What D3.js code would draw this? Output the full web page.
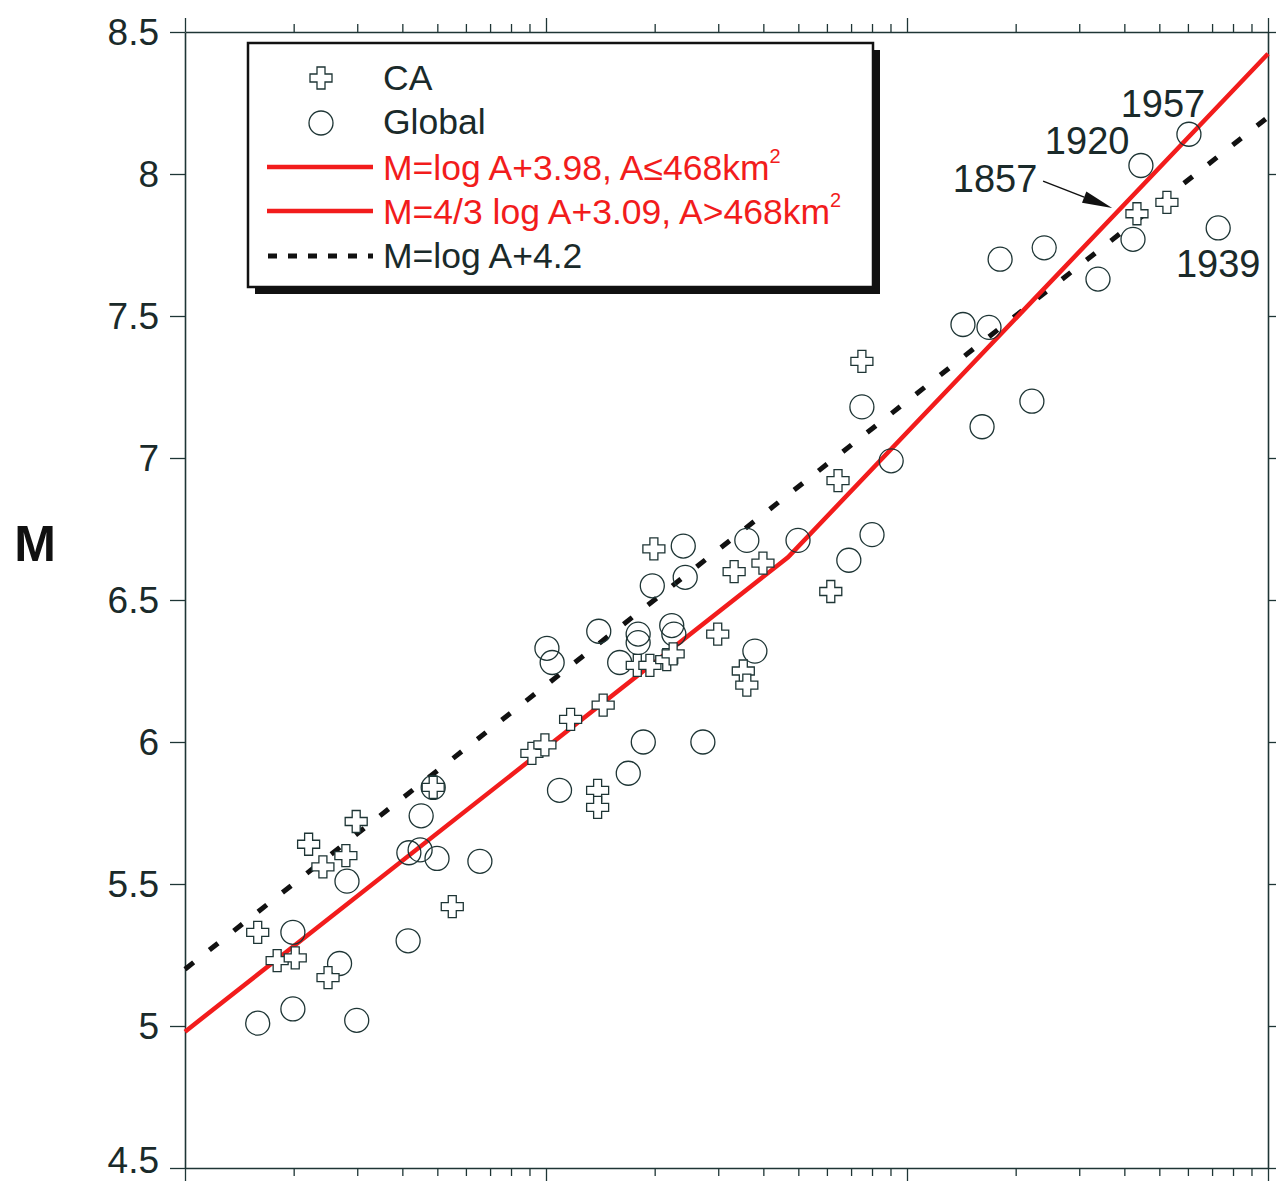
<!DOCTYPE html>
<html>
<head>
<meta charset="utf-8">
<script src="https://cdn.jsdelivr.net/npm/d3@7"></script>
<style>
  body { margin: 0; background: #fff; }
  svg { display: block; font-family: "Liberation Sans", Arial, sans-serif; }
</style>
</head>
<body>
<svg id="chart" width="1277" height="1181"></svg>
<script>
// rupture area A (km^2) and magnitude M
var caArea = [48.7, 29.8, 22.0, 27.9, 24.1, 55.0, 15.9, 18.0, 20.2, 24.9,
              91.4, 99.3, 117, 144, 139, 139, 179, 194, 216, 225,
              199, 299, 332, 399, 352, 360, 615, 644, 750, 4335, 5248];
var caMag  = [5.84, 5.72, 5.64, 5.60, 5.56, 5.42, 5.33, 5.23, 5.24, 5.17,
              5.96, 5.99, 6.08, 6.13, 5.83, 5.77, 6.27, 6.27, 6.29, 6.31,
              6.68, 6.38, 6.60, 6.63, 6.25, 6.20, 6.53, 6.92, 7.34, 7.86, 7.90];

var globalArea = [48.7, 45.1, 41.7, 44.8, 49.9, 65.6, 28.1, 41.5, 19.9, 26.8,
                  19.9, 15.9, 29.9, 100.6, 104, 140, 180, 180, 223, 226,
                  160, 197, 243, 240, 360, 499, 379, 186, 272, 169,
                  109, 750, 904, 800, 690, 1429, 1687, 1614, 2218, 1811,
                  2399, 3381, 4227, 4446, 6039, 7278];
var globalMag  = [5.84, 5.74, 5.61, 5.62, 5.59, 5.58, 5.51, 5.30, 5.33, 5.22,
                  5.06, 5.01, 5.02, 6.33, 6.28, 6.39, 6.38, 6.35, 6.41, 6.38,
                  6.28, 6.55, 6.58, 6.69, 6.71, 6.71, 6.32, 6.00, 6.00, 5.89,
                  5.83, 7.18, 6.99, 6.73, 6.64, 7.47, 7.46, 7.11, 7.20, 7.70,
                  7.74, 7.63, 7.77, 8.03, 8.14, 7.81];

// fitted relations shown in the legend
var fitBreak = 468;                 // km^2
var fitSmall = {slope: 1, c: 3.98};
var fitLarge = {slope: 4 / 3, c: 3.09};
var fitWG = {slope: 1, c: 4.2};

var yTicks = [4.5, 5, 5.5, 6, 6.5, 7, 7.5, 8, 8.5];

var notes = [
  {label: "1957", a: 5117, m: 8.25},
  {label: "1920", a: 3155, m: 8.12},
  {label: "1857", a: 1754, m: 7.985},
  {label: "1939", a: 7278, m: 7.687}
];
var arrow1857 = {from: [2382, 7.975], to: [3700, 7.88]};

var svg = d3.select("#chart");
var ink = "#1e3535";

var x = d3.scaleLog().domain([10, 10000]).range([185, 1268]);
var y = d3.scaleLinear().domain([4.5, 8.5]).range([1168, 32]);

// axes
var logTicks = x.ticks();
var isMajor = function(v) { return Math.abs(Math.log10(v) - Math.round(Math.log10(v))) < 1e-9; };

function frame(gSel) {
  gSel.select(".domain").attr("stroke", ink).attr("stroke-width", 1.6);
  gSel.selectAll(".tick line").attr("stroke", ink).attr("stroke-width", 1.3);
}

var gLeft = svg.append("g").attr("transform", "translate(185,0)")
  .call(d3.axisLeft(y).tickValues(yTicks).tickSize(15).tickPadding(11).tickSizeOuter(0)
        .tickFormat(function(d) { return d3.format("")(d); }));
frame(gLeft);
gLeft.selectAll(".tick text").attr("font-size", 37).attr("fill", "#1a2a2a")
  .attr("font-family", "Liberation Sans, Arial, sans-serif")
  .attr("dy", function(d) { return d === 4.5 ? "0.12em" : "0.34em"; });

var gRight = svg.append("g").attr("transform", "translate(1268,0)")
  .call(d3.axisRight(y).tickValues(yTicks).tickSize(8).tickSizeOuter(0).tickFormat(""));
frame(gRight);

var gTop = svg.append("g").attr("transform", "translate(0,32)")
  .call(d3.axisTop(x).tickValues(logTicks).tickSizeOuter(0).tickFormat(""));
gTop.selectAll(".tick line").attr("y2", function(d) { return isMajor(d) ? -14 : -8; });
frame(gTop);

var gBottom = svg.append("g").attr("transform", "translate(0,1168)")
  .call(d3.axisBottom(x).tickValues(logTicks).tickSizeOuter(0).tickFormat(""));
gBottom.selectAll(".tick line").attr("y2", function(d) { return isMajor(d) ? 14 : 8; });
frame(gBottom);

// y title
svg.append("text").attr("x", 35).attr("y", 561).attr("text-anchor", "middle")
  .attr("font-size", 50).attr("font-weight", "bold").attr("fill", "#111")
  .text("M");

// fit lines
var plot = svg.append("g");
var line = d3.line().x(function(d) { return x(d[0]); }).y(function(d) { return y(d[1]); });

var redPts = [10, fitBreak, 10000].map(function(a) {
  var f = a <= fitBreak ? fitSmall : fitLarge;
  return [a, f.slope * Math.log10(a) + f.c];
});
var wgPts = [10, 10000].map(function(a) { return [a, fitWG.slope * Math.log10(a) + fitWG.c]; });

plot.append("path").datum(wgPts).attr("d", line)
  .attr("fill", "none").attr("stroke", "#111").attr("stroke-width", 5)
  .attr("stroke-dasharray", "11,20");
plot.append("path").datum(redPts).attr("d", line)
  .attr("fill", "none").attr("stroke", "#f21c1c").attr("stroke-width", 4.5);

// points
var caData = caArea.map(function(a, i) { return {a: a, m: caMag[i]}; });
var globalData = globalArea.map(function(a, i) { return {a: a, m: globalMag[i]}; });

var crossPath = "M-4,-11H4V-4H11V4H4V11H-4V4H-11V-4H-4Z";

plot.selectAll(".glob").data(globalData).enter().append("circle")
  .attr("class", "glob")
  .attr("cx", function(d) { return x(d.a); })
  .attr("cy", function(d) { return y(d.m); })
  .attr("r", 12)
  .attr("fill", "none").attr("stroke", ink).attr("stroke-width", 1.3);

plot.selectAll(".ca").data(caData).enter().append("path")
  .attr("class", "ca")
  .attr("transform", function(d) { return "translate(" + x(d.a) + "," + y(d.m) + ")"; })
  .attr("d", crossPath)
  .attr("fill", "#fff").attr("stroke", ink).attr("stroke-width", 1.3);

// year labels
svg.selectAll(".note").data(notes).enter().append("text")
  .attr("class", "note")
  .attr("x", function(d) { return x(d.a); })
  .attr("y", function(d) { return y(d.m); })
  .attr("dy", "0.36em").attr("text-anchor", "middle")
  .attr("font-size", 38).attr("fill", "#1a2a2a")
  .text(function(d) { return d.label; });

var p0 = [x(arrow1857.from[0]), y(arrow1857.from[1])];
var p1 = [x(arrow1857.to[0]), y(arrow1857.to[1])];
var dx = p1[0] - p0[0], dy = p1[1] - p0[1], len = Math.sqrt(dx * dx + dy * dy);
var ux = dx / len, uy = dy / len;
var bx = p1[0] - ux * 30, by = p1[1] - uy * 30;
svg.append("line").attr("x1", p0[0]).attr("y1", p0[1]).attr("x2", bx).attr("y2", by)
  .attr("stroke", "#111").attr("stroke-width", 1.5);
svg.append("path")
  .attr("d", "M" + p1[0] + "," + p1[1] +
             "L" + (bx - uy * 6) + "," + (by + ux * 6) +
             "L" + (bx + uy * 6) + "," + (by - ux * 6) + "Z")
  .attr("fill", "#111");

// legend
var lg = svg.append("g");
lg.append("rect").attr("x", 255).attr("y", 50).attr("width", 625).attr("height", 244).attr("fill", "#111");
lg.append("rect").attr("x", 248).attr("y", 43).attr("width", 625).attr("height", 244)
  .attr("fill", "#fff").attr("stroke", "#111").attr("stroke-width", 2.5);

lg.append("path").attr("transform", "translate(321,78)").attr("d", crossPath)
  .attr("fill", "#fff").attr("stroke", ink).attr("stroke-width", 1.3);
lg.append("circle").attr("cx", 321).attr("cy", 123).attr("r", 12)
  .attr("fill", "none").attr("stroke", ink).attr("stroke-width", 1.3);
lg.append("line").attr("x1", 267).attr("x2", 373).attr("y1", 167).attr("y2", 167)
  .attr("stroke", "#f21c1c").attr("stroke-width", 4.5);
lg.append("line").attr("x1", 267).attr("x2", 373).attr("y1", 211).attr("y2", 211)
  .attr("stroke", "#f21c1c").attr("stroke-width", 4.5);
lg.append("line").attr("x1", 268).attr("x2", 373).attr("y1", 256).attr("y2", 256)
  .attr("stroke", "#111").attr("stroke-width", 5).attr("stroke-dasharray", "9,11");

var legendText = [
  {t: "CA", sup: "", y: 90, c: "#1a2a2a"},
  {t: "Global", sup: "", y: 134, c: "#1a2a2a"},
  {t: "M=log A+3.98, A\u2264468km", sup: "2", y: 180, c: "#f21c1c"},
  {t: "M=4/3 log A+3.09, A>468km", sup: "2", y: 224, c: "#f21c1c"},
  {t: "M=log A+4.2", sup: "", y: 268, c: "#1a2a2a"}
];
legendText.forEach(function(d) {
  var t = lg.append("text").attr("x", 383).attr("y", d.y)
    .attr("font-size", 35.5).attr("fill", d.c).text(d.t);
  if (d.sup) t.append("tspan").attr("dy", -17).attr("font-size", 20).text(d.sup);
});
</script>
</body>
</html>
